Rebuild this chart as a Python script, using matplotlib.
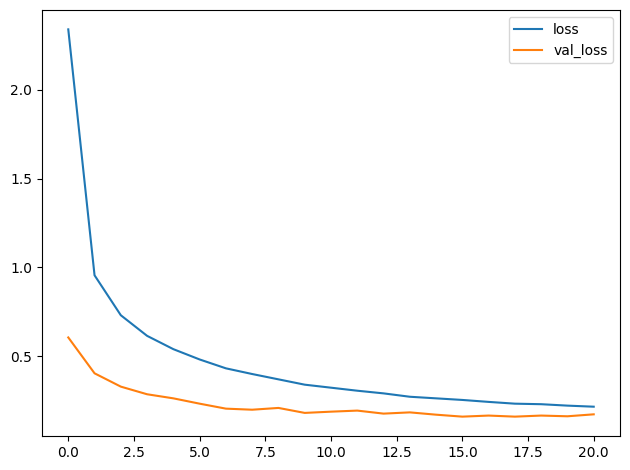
import matplotlib
matplotlib.use("Agg")
import matplotlib.pyplot as plt

epochs = list(range(21))
loss = [2.34, 0.955, 0.73, 0.614, 0.539, 0.481, 0.431, 0.399, 0.369, 0.339, 0.322,
        0.305, 0.290, 0.271, 0.262, 0.253, 0.242, 0.232, 0.229, 0.221, 0.215]
val_loss = [0.605, 0.403, 0.328, 0.285, 0.262, 0.232, 0.204, 0.198, 0.208, 0.180, 0.187,
            0.193, 0.176, 0.183, 0.170, 0.159, 0.165, 0.159, 0.165, 0.161, 0.172]

fig, ax = plt.subplots(figsize=(6.3, 4.7), dpi=100)
ax.plot(epochs, loss, label='loss')
ax.plot(epochs, val_loss, label='val_loss')
ax.legend()
# axes box placed to match the reference crop
fig.subplots_adjust(left=42/630, right=620/630, top=1 - 10/470, bottom=1 - 436/470)
fig.savefig('out.png')
